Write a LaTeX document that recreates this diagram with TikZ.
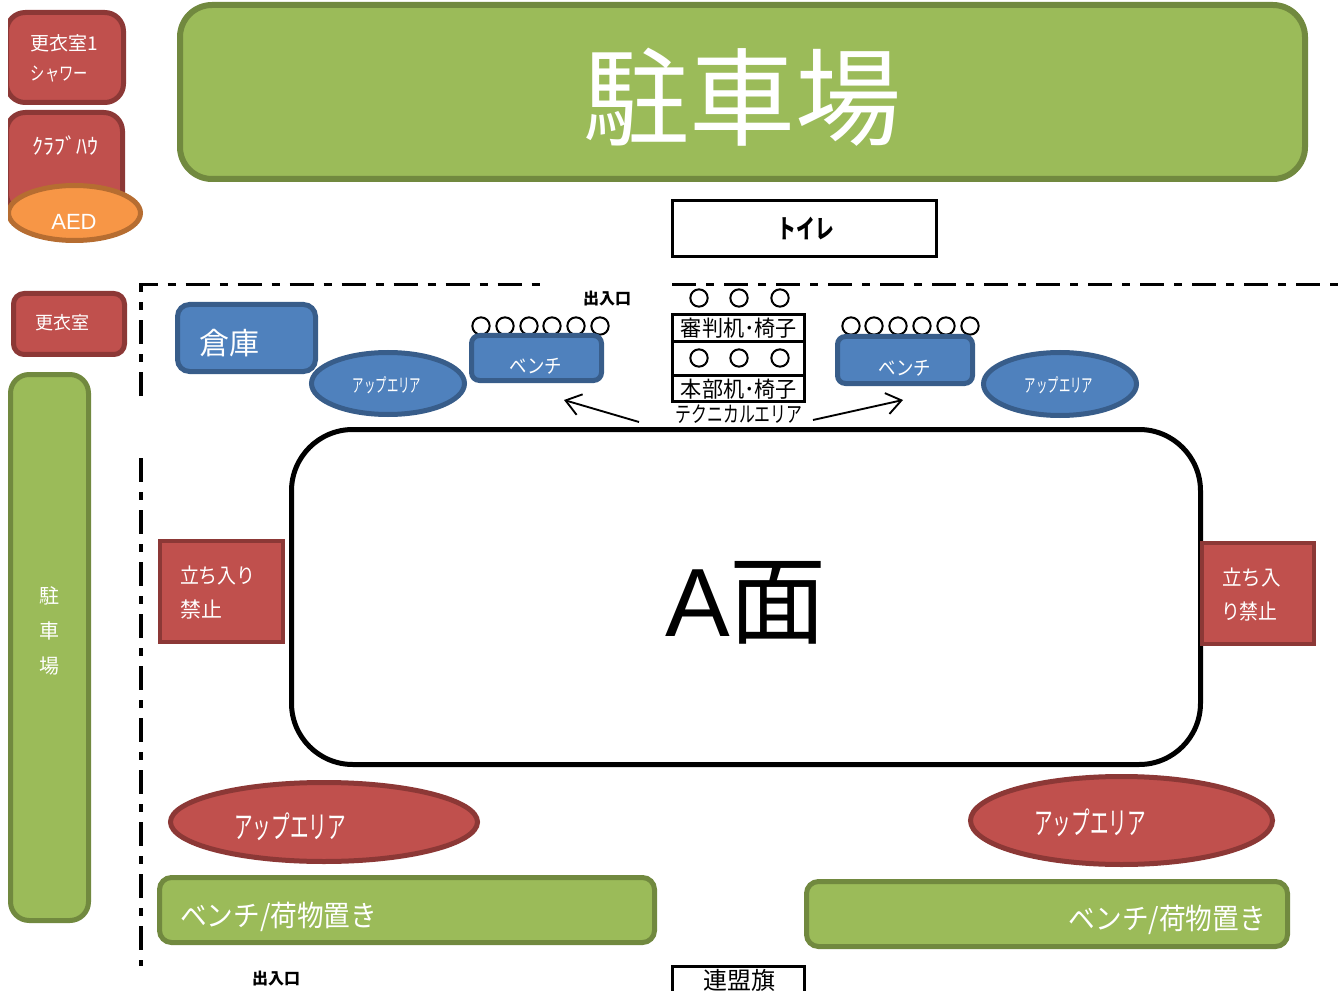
\documentclass[tikz,border=0pt]{standalone}
\usepackage{fontspec}
\setmainfont{Noto Sans CJK JP}
\newfontfamily\latinf{Liberation Sans}
\usetikzlibrary{shapes.geometric,arrows.meta}
\definecolor{redF}{HTML}{C0504D}\definecolor{redL}{HTML}{8C3836}
\definecolor{grnF}{HTML}{9BBB59}\definecolor{grnL}{HTML}{71893F}
\definecolor{bluF}{HTML}{4F81BD}\definecolor{bluL}{HTML}{385D8A}
\definecolor{orgF}{HTML}{F79646}\definecolor{orgL}{HTML}{B66D31}
\newcommand{\fsz}[1]{\fontsize{\dimexpr #1pt*3/4\relax}{\dimexpr #1pt*3/4\relax}\selectfont}
\newcommand{\nar}[2]{\scalebox{#1}[1]{#2}}
% style, name, x1,y1,x2,y2 (outer extents), stroke width in px
\newcommand{\shp}[7]{%
  \pgfmathsetmacro{\wid}{(#5-#3-#7)*0.75}%
  \pgfmathsetmacro{\hei}{(#6-#4-#7)*0.75}%
  \pgfmathsetmacro{\lwd}{#7*0.75}%
  \node[#1,minimum width=\wid pt,minimum height=\hei pt,line width=\lwd pt] (#2) at ({(#3+#5)/2},{(#4+#6)/2}) {};}
\newcommand{\txt}[5][]{\node[lbl,#1] (#2) at (#3,#4) {#5};}
\tikzset{
  x=0.75pt,y=-0.75pt,
  lbl/.style={inner sep=0,outer sep=0,text=white,align=center},
  dark/.style={lbl,text=black},
  rr/.style={rectangle,rounded corners=#1,inner sep=0,outer sep=0},
  rr/.default=10pt,
  redbox/.style={rr=#1,draw=redL,fill=redF},
  grnbox/.style={rr=#1,draw=grnL,fill=grnF},
  blubox/.style={rr=#1,draw=bluL,fill=bluF},
  oval/.style={ellipse,inner sep=0,outer sep=0},
  redoval/.style={oval,draw=redL,fill=redF},
  bluoval/.style={oval,draw=bluL,fill=bluF},
  orgoval/.style={oval,draw=orgL,fill=orgF},
  redsq/.style={rectangle,inner sep=0,outer sep=0,draw=redL,fill=redF},
  blk/.style={rectangle,inner sep=0,outer sep=0,draw=black,fill=white},
  seat/.style={circle,inner sep=0,outer sep=0,draw=black,fill=white,line width=1.5pt,minimum size=13pt},
  bound/.style={draw=black,line width=2.6pt,dash pattern=on 18pt off 7.5pt on 6pt off 7.5pt},
  flow/.style={draw=black,line width=1.4pt,-{Straight Barb[length=11pt,width=16pt,line width=1.4pt]}},
}
\begin{document}
\begin{tikzpicture}
\useasboundingbox (0,0) rectangle (1339,991);
\clip (0,0) rectangle (1339,991);
\begin{scope}
\clip (8,0) rectangle (1339,991);
\shp{redbox=14pt}{rA}{4}{10}{126}{105}{5}
\shp{redbox=14pt}{rB}{4}{110}{125}{215}{5}
\shp{orgoval}{aed}{6}{183}{143}{243}{5}
\shp{grnbox=14pt}{gV}{8}{372}{91}{923}{5}
\end{scope}
\txt[anchor=west]{tA}{31}{43}{\fsz{19}更衣室1}
\txt[anchor=west]{tA2}{31}{74}{\nar{0.75}{\fsz{19}シャワー}}
\txt[anchor=west]{tB}{32}{146}{\fsz{22}ｸﾗﾌﾞﾊｳ}
\node[lbl] (tAed) at (74,222) {\latinf\fsz{22}AED};
\shp{grnbox=24pt}{park}{177}{2}{1308}{182}{6}
\txt{tPark}{742}{97}{\fsz{106}駐車場}
\shp{blk}{wc}{671}{199}{938}{258}{3}
\node[dark,font=\bfseries] (tWc) at (806,228) {\nar{0.72}{\fsz{26}トイレ}};
\shp{redbox=8pt}{rC}{11}{291}{127}{357}{5}
\txt{tC}{63}{323}{\fsz{18}更衣室}
\txt{v1}{49}{596}{\fsz{20}駐}
\txt{v2}{49}{631}{\fsz{20}車}
\txt{v3}{49}{666}{\fsz{20}場}
\coordinate (b1) at (540,284.5);\coordinate (b2) at (141,284.5);\coordinate (b3) at (141,396);
\coordinate (b4) at (141,458);\coordinate (b5) at (141,966);
\coordinate (b6) at (672,284.5);\coordinate (b7) at (1339,284.5);
\draw[bound] (b3) -- (b2) -- (b1);
\draw[bound] (b4) -- (b5);
\draw[bound] (b6) -- (b7);
\shp{blubox=9pt}{store}{175}{302}{318}{374}{5}
\txt{tStore}{229}{343}{\fsz{30}倉庫}
\shp{bluoval}{upL}{309}{350}{467}{417}{5}
\txt{tUpL}{387}{385}{\nar{0.6}{\fsz{19}アップエリア}}
\shp{bluoval}{upR}{981}{350}{1139}{418}{5}
\txt{tUpR}{1059}{385}{\nar{0.6}{\fsz{19}アップエリア}}
\foreach \i/\cx in {1/481,2/505,3/529,4/552,5/576,6/600}{\node[seat] (sL\i) at (\cx,326) {};}
\foreach \i/\cx in {1/851,2/874,3/898,4/922,5/946,6/970}{\node[seat] (sR\i) at (\cx,326) {};}
\shp{blubox=6pt}{bnL}{469}{333}{604}{383}{5}
\txt{tBnL}{536}{366}{\nar{0.87}{\fsz{20}ベンチ}}
\shp{blubox=6pt}{bnR}{835}{334}{975}{386}{5}
\txt{tBnR}{905}{368}{\nar{0.87}{\fsz{20}ベンチ}}
\node[dark,font=\bfseries] (ent1) at (607,299) {\fsz{16}出入口};
\foreach \i/\cx in {1/699,2/739,3/780}{\node[seat] (sT\i) at (\cx,298) {};}
\shp{blk}{judge}{671}{313}{806}{343}{3}
\shp{blk}{hq}{671}{374}{806}{403}{3}
\foreach \i/\cx in {1/699,2/739,3/780}{\node[seat] (sM\i) at (\cx,358) {};}
\draw[draw=black,line width=2.25pt] (judge.south west) -- (hq.north west);
\draw[draw=black,line width=2.25pt] (judge.south east) -- (hq.north east);
\node[dark] (tJ) at (739,328) {\nar{0.96}{\fsz{22}審判机･椅子}};
\node[dark] (tH) at (739,389) {\nar{0.96}{\fsz{22}本部机･椅子}};
\node[dark] (tT) at (739,414) {\nar{0.72}{\fsz{22}テクニカルエリア}};
\coordinate (a1) at (639,422);\coordinate (a2) at (564,400);
\coordinate (a3) at (813,420);\coordinate (a4) at (903,400);
\draw[flow] (a1) -- (a2);
\draw[flow] (a3) -- (a4);
\shp{rr=46pt,draw=black,fill=white}{court}{289}{427}{1203}{767}{5}
\node[dark] (tCourt) at (746,603) {\latinf\fsz{97}A\setmainfont{Noto Sans CJK JP}\rmfamily 面};
\shp{redsq}{noL}{158}{539}{285}{644}{4}
\txt[anchor=west]{tNoL}{180}{575}{\nar{0.9}{\fsz{21}立ち入り}}
\txt[anchor=west]{tNoL2}{180}{610}{\fsz{21}禁止}
\shp{redsq}{noR}{1200}{541}{1316}{646}{4}
\txt[anchor=west]{tNoR}{1222}{577}{\nar{0.93}{\fsz{21}立ち入}}
\txt[anchor=west]{tNoR2}{1221}{612}{\nar{0.9}{\fsz{21}り禁止}}
\shp{redoval}{upBL}{168}{780}{480}{864}{5}
\txt{tUpBL}{290}{827}{\nar{0.6}{\fsz{31}アップエリア}}
\shp{redoval}{upBR}{968}{774}{1275}{867}{5}
\txt{tUpBR}{1090}{823}{\nar{0.6}{\fsz{31}アップエリア}}
\shp{grnbox=9pt}{lugL}{157}{875}{657}{945}{5}
\txt[anchor=west]{tLugL}{180}{917}{\nar{0.92}{\fsz{29}ベンチ/荷物置き}}
\shp{grnbox=9pt}{lugR}{804}{879}{1290}{949}{5}
\txt[anchor=east]{tLugR}{1266}{920}{\nar{0.92}{\fsz{29}ベンチ/荷物置き}}
\node[dark,font=\bfseries] (ent2) at (276,979) {\fsz{16}出入口};
\shp{blk}{flag}{671}{965}{806}{1010}{3}
\node[dark] (tFlag) at (739,980) {\fsz{24}連盟旗};
\end{tikzpicture}
\end{document}
